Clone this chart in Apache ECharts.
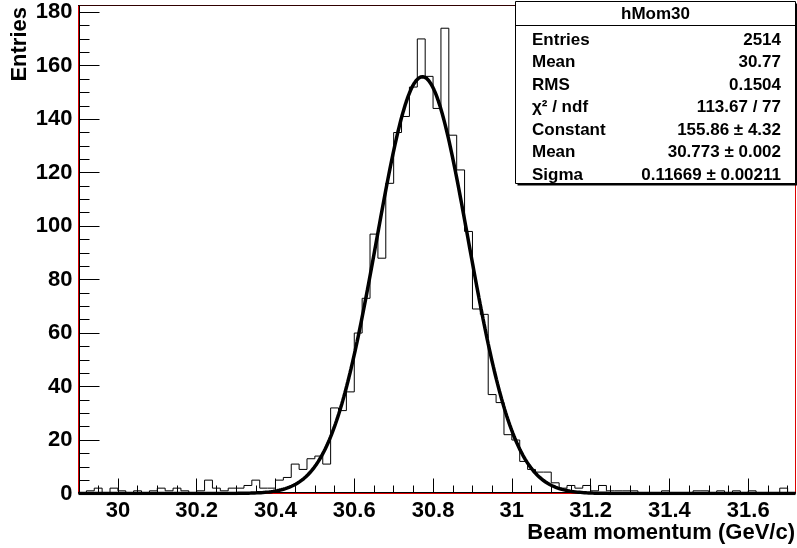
<!DOCTYPE html>
<html>
<head>
<meta charset="utf-8">
<script src="https://cdn.jsdelivr.net/npm/echarts@6/dist/echarts.min.js"></script>
<style>
  html, body { margin: 0; padding: 0; background: #ffffff; }
  #chart { width: 797px; height: 548px; }
</style>
</head>
<body>
<div id="chart"></div>
<script>
// hMom30: beam momentum, 91 bins of 0.02 GeV/c starting at 29.90
const binStart = 29.9;
const binWidth = 0.02;
const binCounts = [
  0, 1, 2, 0, 2, 1, 0, 1, 0, 1,
  2, 1, 2, 1, 0, 1, 5, 2, 1, 2,
  2, 3, 5, 2, 2, 5, 6, 11, 9, 13,
  14, 11, 32, 31, 38, 60, 73, 97, 88, 116,
  135, 141, 152, 170, 156, 144, 174, 134, 121, 98,
  69, 67, 37, 34, 22, 20, 12, 9, 8, 8,
  4, 2, 3, 2, 3, 1, 3, 1, 1, 1,
  1, 0, 0, 0, 1, 0, 0, 0, 1, 1,
  0, 1, 0, 1, 0, 1, 0, 0, 0, 2,
  0
];

// Gaussian fit parameters
const fitConstant = 155.86;
const fitMean = 30.773;
const fitSigma = 0.11669;

// axis ranges and tick labels
const xMin = 29.9, xMax = 31.72;
const yMin = 0, yMax = 182.5;
const xMajorTicks = [30, 30.2, 30.4, 30.6, 30.8, 31, 31.2, 31.4, 31.6];
const yMajorTicks = [0, 20, 40, 60, 80, 100, 120, 140, 160, 180];
const xMinorStep = 0.05;
const yMinorStep = 5;

// statistics box
const statsTitle = 'hMom30';
const statNames = ['Entries', 'Mean', 'RMS', 'χ² / ndf', 'Constant', 'Mean', 'Sigma'];
const statValues = ['2514', '30.77', '0.1504', '113.67 / 77', '155.86 ± 4.32', '30.773 ± 0.002', '0.11669 ± 0.00211'];

const FONT = '"Liberation Sans", Arial, Helvetica, sans-serif';

// minor tick positions
const xMinorTicks = [];
for (let i = 1; binStart + i * xMinorStep < xMax; i++) {
  xMinorTicks.push(+(binStart + i * xMinorStep).toFixed(2));
}
const yMinorTicks = [];
for (let v = yMin; v <= 180; v += yMinorStep) yMinorTicks.push(v);

// histogram outline: flat top across each bin
const histPoints = [];
binCounts.forEach((c, i) => {
  const lo = binStart + i * binWidth;
  histPoints.push([lo, c], [lo + binWidth, c]);
});

// fitted gaussian over the full axis range
const fitPoints = [];
const nSamples = 700;
for (let i = 0; i <= nSamples; i++) {
  const x = xMin + (xMax - xMin) * i / nSamples;
  const z = (x - fitMean) / fitSigma;
  fitPoints.push([x, fitConstant * Math.exp(-0.5 * z * z)]);
}

const labelStyle = { color: '#000', fontFamily: FONT, fontWeight: 'bold', fontSize: 22 };

const statsGraphics = [];
const boxL = 515.5, boxT = 1.5, boxW = 280, boxH = 182;
statsGraphics.push(
  { type: 'rect', z: 100, shape: { x: boxL + 2, y: boxT + 2, width: boxW, height: boxH }, style: { fill: '#000' } },
  { type: 'rect', z: 101, shape: { x: boxL, y: boxT, width: boxW, height: boxH }, style: { fill: '#fff', stroke: '#000', lineWidth: 1 } },
  { type: 'line', z: 102, shape: { x1: boxL, y1: 25.5, x2: boxL + boxW, y2: 25.5 }, style: { stroke: '#000', lineWidth: 1 } },
  { type: 'text', z: 102, x: boxL + boxW / 2, y: 14,
    style: { text: statsTitle, font: 'bold 17px ' + FONT, fill: '#000', align: 'center', verticalAlign: 'middle', textAlign: 'center', textVerticalAlign: 'middle' } }
);
statNames.forEach((name, i) => {
  const cy = 40 + i * 22.5;
  statsGraphics.push(
    { type: 'text', z: 102, x: 532, y: cy,
      style: { text: name, font: 'bold 17px ' + FONT, fill: '#000', align: 'left', verticalAlign: 'middle', textAlign: 'left', textVerticalAlign: 'middle' } },
    { type: 'text', z: 102, x: 781, y: cy,
      style: { text: statValues[i], font: 'bold 17px ' + FONT, fill: '#000', align: 'right', verticalAlign: 'middle', textAlign: 'right', textVerticalAlign: 'middle' } }
  );
});

const chart = echarts.init(document.getElementById('chart'), null, { renderer: 'canvas' });
chart.setOption({
  animation: false,
  backgroundColor: '#ffffff',
  grid: { left: 78.5, right: 1.5, top: 5.5, bottom: 54.5, show: true, borderColor: '#dd0000', borderWidth: 1, backgroundColor: 'transparent' },
  xAxis: [
    {
      type: 'value', min: xMin, max: xMax, position: 'bottom', offset: -1,
      axisLine: { show: true, lineStyle: { color: '#000', width: 1 } },
      splitLine: { show: false },
      axisTick: { show: true, inside: true, length: 14, customValues: xMajorTicks, lineStyle: { color: '#000', width: 1 } },
      axisLabel: Object.assign({ customValues: xMajorTicks, margin: 7, formatter: v => String(+(+v).toFixed(1)) }, labelStyle)
    },
    {
      type: 'value', min: xMin, max: xMax, position: 'bottom', offset: -1,
      axisLine: { show: false }, splitLine: { show: false },
      axisTick: { show: true, inside: true, length: 7, customValues: xMinorTicks, lineStyle: { color: '#000', width: 1 } },
      axisLabel: { show: false }
    }
  ],
  yAxis: [
    {
      type: 'value', min: yMin, max: yMax, position: 'left', offset: -1,
      axisLine: { show: true, lineStyle: { color: '#000', width: 1 } },
      splitLine: { show: false },
      axisTick: { show: true, inside: true, length: 20, customValues: yMajorTicks, lineStyle: { color: '#000', width: 1 } },
      axisLabel: Object.assign({ customValues: yMajorTicks, margin: 7 }, labelStyle)
    },
    {
      type: 'value', min: yMin, max: yMax, position: 'left', offset: -1,
      axisLine: { show: false }, splitLine: { show: false },
      axisTick: { show: true, inside: true, length: 10, customValues: yMinorTicks, lineStyle: { color: '#000', width: 1 } },
      axisLabel: { show: false }
    }
  ],
  series: [
    {
      name: 'hMom30', type: 'line', xAxisIndex: 0, yAxisIndex: 0,
      data: histPoints, showSymbol: false, symbol: 'none',
      lineStyle: { color: '#000', width: 1 }, z: 3
    },
    {
      name: 'gaus', type: 'line', xAxisIndex: 0, yAxisIndex: 0,
      data: fitPoints, showSymbol: false, symbol: 'none', smooth: false,
      lineStyle: { color: '#000', width: 3.5 }, z: 4
    }
  ],
  graphic: [
    { type: 'line', z: 40, shape: { x1: 78, y1: 5.5, x2: 796, y2: 5.5 }, style: { stroke: '#300000', lineWidth: 1 } },
    { type: 'text', z: 50, x: 20, y: 7, rotation: Math.PI / 2,
      style: { text: 'Entries', font: 'bold 22px ' + FONT, fill: '#000', align: 'right', verticalAlign: 'middle', textAlign: 'right', textVerticalAlign: 'middle' } },
    { type: 'text', z: 50, x: 795, y: 533,
      style: { text: 'Beam momentum (GeV/c)', font: 'bold 22px ' + FONT, fill: '#000', align: 'right', verticalAlign: 'middle', textAlign: 'right', textVerticalAlign: 'middle' } }
  ].concat(statsGraphics)
});
</script>
</body>
</html>
